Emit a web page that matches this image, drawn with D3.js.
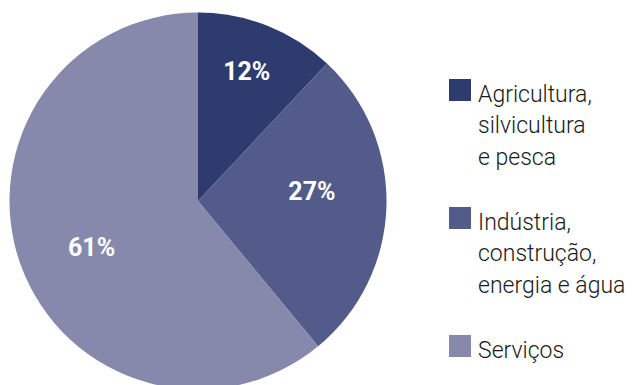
<!DOCTYPE html>
<html>
<head>
<meta charset="utf-8">
<script src="https://cdn.jsdelivr.net/npm/d3@7"></script>
<style>
  html, body { margin: 0; padding: 0; background: #fff; }
  svg { display: block; }
</style>
</head>
<body>
<svg id="chart" width="633" height="385"></svg>
<script>
// Sector shares of the economy (%)
const sectors = [
  ["Agricultura,", "silvicultura", "e pesca"],
  ["Indústria,", "construção,", "energia e água"],
  ["Serviços"]
];
const shares = [12, 27, 61];
const colors = ["#2e3b6e", "#535b8a", "#8689ab"];

const svg = d3.select("#chart");
const cx = 198, cy = 201, R = 188.5;

const pie = d3.pie().sort(null).value(d => d)(shares);
const arc = d3.arc().innerRadius(0).outerRadius(R);

const g = svg.append("g").attr("transform", `translate(${cx},${cy})`);

g.selectAll("path.slice")
  .data(pie)
  .join("path")
  .attr("class", "slice")
  .attr("d", arc)
  .attr("fill", (d, i) => colors[i]);

// Label placement: radius as a fraction of R and a small angular nudge (degrees)
const labelRadius = [0.735, 0.607, 0.615];
const labelTurn = [-1, -7, -3.6];
const labelPos = (d, i) => {
  const a = (d.startAngle + d.endAngle) / 2 + labelTurn[i] * Math.PI / 180;
  const r = R * labelRadius[i];
  return [r * Math.sin(a), -r * Math.cos(a)];
};

g.selectAll("text.pct")
  .data(pie)
  .join("text")
  .attr("class", "pct")
  .attr("transform", (d, i) => `translate(${labelPos(d, i)})`)
  .attr("text-anchor", "middle")
  .attr("dy", "0.36em")
  .attr("fill", "#fff")
  .attr("font-family", "Roboto, 'Open Sans', sans-serif")
  .attr("font-weight", "bold")
  .attr("font-size", 25)
  .text(d => d.value + "%");

// Legend
const legendY = [79, 207, 335];
const lineH = 31.5;
const legend = svg.append("g");
sectors.forEach((lines, i) => {
  legend.append("rect")
    .attr("x", 449).attr("y", legendY[i])
    .attr("width", 22).attr("height", 22)
    .attr("fill", colors[i]);
  const t = legend.append("text")
    .attr("x", 478).attr("y", legendY[i] + 22.5)
    .attr("fill", "#1a1a1a")
    .attr("font-family", "Roboto, 'Open Sans', sans-serif")
    .attr("font-weight", 300)
    .attr("font-size", 23);
  lines.forEach((line, j) => {
    t.append("tspan")
      .attr("x", 478)
      .attr("y", legendY[i] + 22.5 + j * lineH)
      .text(line);
  });
});
</script>
</body>
</html>
